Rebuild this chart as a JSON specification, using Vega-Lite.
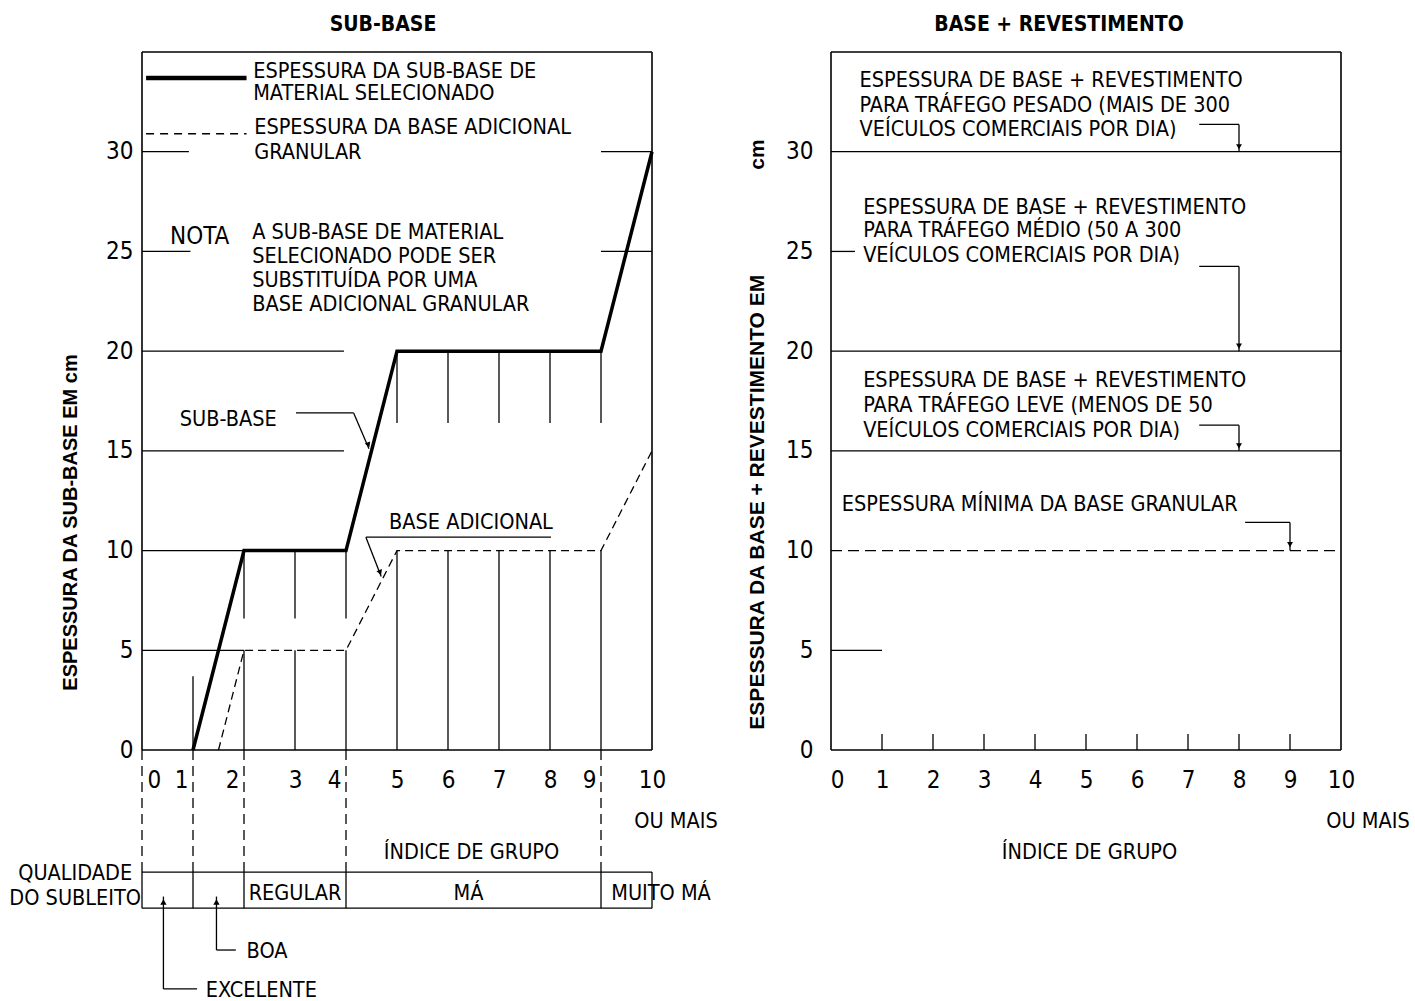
{
  "$schema": "https://vega.github.io/schema/vega-lite/v6.json",
  "background": "white",
  "padding": {"left": 9, "top": 14, "right": 2, "bottom": 2},
  "spacing": 179,
  "bounds": "flush",
  "config": {
    "view": {"stroke": null},
    "font": "Liberation Sans Narrow, DejaVu Sans Condensed, sans-serif",
    "axis": {
      "labelFont": "Liberation Sans Narrow, DejaVu Sans Condensed, sans-serif",
      "labelFontSize": 24,
      "labelColor": "black",
      "titleFont": "Liberation Sans Narrow, DejaVu Sans Condensed, sans-serif",
      "titleColor": "black",
      "titleFontWeight": "normal",
      "grid": false,
      "domain": false,
      "ticks": false,
      "tickSize": 0,
      "labelOverlap": false,
      "labelFlush": false
    },
    "text": {"font": "Liberation Sans Narrow, DejaVu Sans Condensed, sans-serif", "fontSize": 21.5, "color": "black", "baseline": "middle", "dy": 2},
    "title": {"font": "Liberation Sans Narrow, DejaVu Sans Condensed, sans-serif", "fontSize": 21, "fontWeight": "bold", "color": "black", "offset": 16, "baseline": "alphabetic", "anchor": "middle", "frame": "group"}
  },
  "datasets": {
    "frame": [
      {"x": 0, "y": 0, "x2": 0, "y2": 35},
      {"x": 0, "y": 35, "x2": 10, "y2": 35},
      {"x": 10, "y": 35, "x2": 10, "y2": 0},
      {"x": 0, "y": 0, "x2": 10, "y2": 0}
    ],
    "thinL": [
      {"x": 0, "y": 30, "x2": 0.92, "y2": 30},
      {"x": 9, "y": 30, "x2": 10, "y2": 30},
      {"x": 0, "y": 25, "x2": 0.95, "y2": 25},
      {"x": 9, "y": 25, "x2": 10, "y2": 25},
      {"x": 0, "y": 20, "x2": 3.96, "y2": 20},
      {"x": 0, "y": 15, "x2": 3.96, "y2": 15},
      {"x": 0, "y": 10, "x2": 2, "y2": 10},
      {"x": 0, "y": 5, "x2": 2, "y2": 5},
      {"x": 1, "y": 0, "x2": 1, "y2": 3.7},
      {"x": 2, "y": 0, "x2": 2, "y2": 5},
      {"x": 2, "y": 6.6, "x2": 2, "y2": 10},
      {"x": 3, "y": 0, "x2": 3, "y2": 5},
      {"x": 3, "y": 6.6, "x2": 3, "y2": 10},
      {"x": 4, "y": 0, "x2": 4, "y2": 5},
      {"x": 4, "y": 6.6, "x2": 4, "y2": 10},
      {"x": 5, "y": 0, "x2": 5, "y2": 10},
      {"x": 5, "y": 16.4, "x2": 5, "y2": 20},
      {"x": 6, "y": 0, "x2": 6, "y2": 10},
      {"x": 6, "y": 16.4, "x2": 6, "y2": 20},
      {"x": 7, "y": 0, "x2": 7, "y2": 10},
      {"x": 7, "y": 16.4, "x2": 7, "y2": 20},
      {"x": 8, "y": 0, "x2": 8, "y2": 10},
      {"x": 8, "y": 16.4, "x2": 8, "y2": 20},
      {"x": 9, "y": 0, "x2": 9, "y2": 10},
      {"x": 9, "y": 16.4, "x2": 9, "y2": 20},
      {"x": 3.02, "y": 16.9, "x2": 4.15, "y2": 16.9},
      {"x": 4.15, "y": 16.9, "x2": 4.45, "y2": 15.1},
      {"x": 4.39, "y": 10.67, "x2": 8.02, "y2": 10.67},
      {"x": 4.39, "y": 10.67, "x2": 4.69, "y2": 8.7},
      {"x": 0, "y": -6.12, "x2": 10, "y2": -6.12},
      {"x": 0, "y": -7.93, "x2": 10, "y2": -7.93},
      {"x": 0, "y": -6.12, "x2": 0, "y2": -7.93},
      {"x": 1, "y": -6.12, "x2": 1, "y2": -7.93},
      {"x": 2, "y": -6.12, "x2": 2, "y2": -7.93},
      {"x": 4, "y": -6.12, "x2": 4, "y2": -7.93},
      {"x": 9, "y": -6.12, "x2": 9, "y2": -7.93},
      {"x": 10, "y": -6.12, "x2": 10, "y2": -7.93},
      {"x": 0.42, "y": -7.35, "x2": 0.42, "y2": -11.98},
      {"x": 0.42, "y": -11.98, "x2": 1.08, "y2": -11.98},
      {"x": 1.46, "y": -7.35, "x2": 1.46, "y2": -10.03},
      {"x": 1.46, "y": -10.03, "x2": 1.84, "y2": -10.03}
    ],
    "dashL": [
      {"x": 0, "y": 0, "x2": 0, "y2": -6.12},
      {"x": 1, "y": 0, "x2": 1, "y2": -6.12},
      {"x": 2, "y": 0, "x2": 2, "y2": -6.12},
      {"x": 4, "y": 0, "x2": 4, "y2": -6.12},
      {"x": 9, "y": 0, "x2": 9, "y2": -6.12}
    ],
    "subbase": [
      {"x": 1, "y": 0}, {"x": 2, "y": 10}, {"x": 4, "y": 10},
      {"x": 5, "y": 20}, {"x": 9, "y": 20}, {"x": 10, "y": 30}
    ],
    "baseadic": [
      {"x": 1.5, "y": 0}, {"x": 2, "y": 5}, {"x": 4, "y": 5},
      {"x": 5, "y": 10}, {"x": 9, "y": 10}, {"x": 10, "y": 15}
    ],
    "legThick": [{"x": 0.08, "y": 33.7, "x2": 2.05, "y2": 33.7}],
    "legDash": [{"x": 0.08, "y": 30.9, "x2": 2.05, "y2": 30.9}],
    "arrowDiagL": [{"x": 4.44, "y": 15.3}, {"x": 4.67, "y": 8.9}],
    "arrowUpL": [{"x": 0.42, "y": -7.62}, {"x": 1.46, "y": -7.62}],
    "textLeftL": [
      {"x": 2.18, "y": 34.12, "label": "ESPESSURA DA SUB-BASE DE"},
      {"x": 2.18, "y": 33.0, "label": "MATERIAL SELECIONADO"},
      {"x": 2.2, "y": 31.3, "label": "ESPESSURA DA BASE ADICIONAL"},
      {"x": 2.2, "y": 30.05, "label": "GRANULAR"},
      {"x": 2.16, "y": 26.0, "label": "A SUB-BASE DE MATERIAL"},
      {"x": 2.16, "y": 24.8, "label": "SELECIONADO PODE SER"},
      {"x": 2.16, "y": 23.6, "label": "SUBSTITUÍDA POR UMA"},
      {"x": 2.16, "y": 22.4, "label": "BASE ADICIONAL GRANULAR"},
      {"x": 9.2, "y": -7.1, "label": "MUITO MÁ"},
      {"x": 2.05, "y": -10.03, "label": "BOA"},
      {"x": 1.25, "y": -11.98, "label": "EXCELENTE"}
    ],
    "textCenterL": [
      {"x": 1.69, "y": 16.66, "label": "SUB-BASE"},
      {"x": 6.45, "y": 11.49, "label": "BASE ADICIONAL"},
      {"x": 3.0, "y": -7.1, "label": "REGULAR"},
      {"x": 6.4, "y": -7.1, "label": "MÁ"},
      {"x": -1.31, "y": -6.12, "label": "QUALIDADE"},
      {"x": -1.31, "y": -7.38, "label": "DO SUBLEITO"},
      {"x": 10.47, "y": -3.51, "label": "OU MAIS"}
    ],
    "textNota": [{"x": 1.13, "y": 25.84, "label": "NOTA"}],
    "thinR": [
      {"x": 0, "y": 30, "x2": 10, "y2": 30},
      {"x": 0, "y": 20, "x2": 10, "y2": 20},
      {"x": 0, "y": 15, "x2": 10, "y2": 15},
      {"x": 0, "y": 25, "x2": 0.47, "y2": 25},
      {"x": 0, "y": 5, "x2": 1, "y2": 5},
      {"x": 1, "y": 0, "x2": 1, "y2": 0.8},
      {"x": 2, "y": 0, "x2": 2, "y2": 0.8},
      {"x": 3, "y": 0, "x2": 3, "y2": 0.8},
      {"x": 4, "y": 0, "x2": 4, "y2": 0.8},
      {"x": 5, "y": 0, "x2": 5, "y2": 0.8},
      {"x": 6, "y": 0, "x2": 6, "y2": 0.8},
      {"x": 7, "y": 0, "x2": 7, "y2": 0.8},
      {"x": 8, "y": 0, "x2": 8, "y2": 0.8},
      {"x": 9, "y": 0, "x2": 9, "y2": 0.8},
      {"x": 7.22, "y": 31.37, "x2": 8, "y2": 31.37},
      {"x": 8, "y": 31.37, "x2": 8, "y2": 30},
      {"x": 7.22, "y": 24.25, "x2": 8, "y2": 24.25},
      {"x": 8, "y": 24.25, "x2": 8, "y2": 20},
      {"x": 7.22, "y": 16.29, "x2": 8, "y2": 16.29},
      {"x": 8, "y": 16.29, "x2": 8, "y2": 15},
      {"x": 8.12, "y": 11.41, "x2": 9, "y2": 11.41},
      {"x": 9, "y": 11.41, "x2": 9, "y2": 10}
    ],
    "dashR": [{"x": 0, "y": 10, "x2": 10, "y2": 10}],
    "arrowDownR": [{"x": 8, "y": 30.25}, {"x": 8, "y": 20.25}, {"x": 8, "y": 15.25}, {"x": 9, "y": 10.3}],
    "textLeftR": [
      {"x": 0.56, "y": 33.65, "label": "ESPESSURA DE BASE + REVESTIMENTO"},
      {"x": 0.56, "y": 32.4, "label": "PARA TRÁFEGO PESADO (MAIS DE 300"},
      {"x": 0.56, "y": 31.19, "label": "VEÍCULOS COMERCIAIS POR DIA)"},
      {"x": 0.63, "y": 27.3, "label": "ESPESSURA DE BASE + REVESTIMENTO"},
      {"x": 0.63, "y": 26.1, "label": "PARA TRÁFEGO MÉDIO (50 A 300"},
      {"x": 0.63, "y": 24.85, "label": "VEÍCULOS COMERCIAIS POR DIA)"},
      {"x": 0.63, "y": 18.58, "label": "ESPESSURA DE BASE + REVESTIMENTO"},
      {"x": 0.63, "y": 17.36, "label": "PARA TRÁFEGO LEVE (MENOS DE 50"},
      {"x": 0.63, "y": 16.1, "label": "VEÍCULOS COMERCIAIS POR DIA)"},
      {"x": 0.21, "y": 12.38, "label": "ESPESSURA MÍNIMA DA BASE GRANULAR"}
    ],
    "textCenterR": [{"x": 10.53, "y": -3.51, "label": "OU MAIS"}]
  },
  "hconcat": [
    {
      "width": 510,
      "height": 698,
      "title": {"text": "SUB-BASE", "dx": -14},
      "layer": [
        {
          "data": {"name": "frame"},
          "mark": {"type": "rule", "strokeWidth": 1.6, "color": "black"},
          "encoding": {
            "x": {"field": "x", "type": "quantitative",
              "scale": {"domain": [0, 10], "nice": false, "zero": false},
              "axis": {"title": "ÍNDICE DE GRUPO", "values": [0,1,2,3,4,5,6,7,8,9,10], "labelPadding": 30, "labelBaseline": "middle",
                "labelAlign": {"condition": [{"test": "datum.value == 0", "value": "left"}, {"test": "indexof([1,2,4,9], datum.value) >= 0", "value": "right"}], "value": "center"},
                "labelOffset": {"condition": [{"test": "datum.value == 0", "value": 5}, {"test": "indexof([1,2,4,9], datum.value) >= 0", "value": -5}], "value": 0},
                "titleFontSize": 21.5, "titleX": 329, "titleY": 102, "titleBaseline": "middle", "titleAlign": "center"}},
            "x2": {"field": "x2"},
            "y": {"field": "y", "type": "quantitative",
              "scale": {"domain": [0, 35], "nice": false, "zero": false},
              "axis": {"title": "ESPESSURA DA SUB-BASE EM cm", "values": [0,5,10,15,20,25,30], "labelPadding": 9,
                "titleFont": "Liberation Sans, DejaVu Sans, sans-serif", "titleFontWeight": "bold", "titleFontSize": 20,
                "titleX": -72, "titleY": 470, "titleAngle": 270, "titleAlign": "center", "titleBaseline": "middle"}},
            "y2": {"field": "y2"}
          }
        },
        {
          "data": {"name": "thinL"},
          "mark": {"type": "rule", "strokeWidth": 1.3, "color": "black"},
          "encoding": {"x": {"field": "x", "type": "quantitative"}, "x2": {"field": "x2"}, "y": {"field": "y", "type": "quantitative"}, "y2": {"field": "y2"}}
        },
        {
          "data": {"name": "dashL"},
          "mark": {"type": "rule", "strokeWidth": 1.3, "color": "black", "strokeDash": [10, 6]},
          "encoding": {"x": {"field": "x", "type": "quantitative"}, "x2": {"field": "x2"}, "y": {"field": "y", "type": "quantitative"}, "y2": {"field": "y2"}}
        },
        {
          "data": {"name": "subbase"},
          "mark": {"type": "line", "strokeWidth": 3.5, "color": "black"},
          "encoding": {"x": {"field": "x", "type": "quantitative"}, "y": {"field": "y", "type": "quantitative"}}
        },
        {
          "data": {"name": "baseadic"},
          "mark": {"type": "line", "strokeWidth": 1.3, "color": "black", "strokeDash": [8, 5]},
          "encoding": {"x": {"field": "x", "type": "quantitative"}, "y": {"field": "y", "type": "quantitative"}}
        },
        {
          "data": {"name": "legThick"},
          "mark": {"type": "rule", "strokeWidth": 4.5, "color": "black"},
          "encoding": {"x": {"field": "x", "type": "quantitative"}, "x2": {"field": "x2"}, "y": {"field": "y", "type": "quantitative"}, "y2": {"field": "y2"}}
        },
        {
          "data": {"name": "legDash"},
          "mark": {"type": "rule", "strokeWidth": 1.3, "color": "black", "strokeDash": [8, 6]},
          "encoding": {"x": {"field": "x", "type": "quantitative"}, "x2": {"field": "x2"}, "y": {"field": "y", "type": "quantitative"}, "y2": {"field": "y2"}}
        },
        {
          "data": {"name": "arrowDiagL"},
          "mark": {"type": "point", "shape": "triangle-down", "filled": true, "size": 35, "color": "black", "opacity": 1, "angle": 338},
          "encoding": {"x": {"field": "x", "type": "quantitative"}, "y": {"field": "y", "type": "quantitative"}}
        },
        {
          "data": {"name": "arrowUpL"},
          "mark": {"type": "point", "shape": "triangle-up", "filled": true, "size": 40, "color": "black", "opacity": 1},
          "encoding": {"x": {"field": "x", "type": "quantitative"}, "y": {"field": "y", "type": "quantitative"}}
        },
        {
          "data": {"name": "textLeftL"},
          "mark": {"type": "text", "align": "left"},
          "encoding": {"x": {"field": "x", "type": "quantitative"}, "y": {"field": "y", "type": "quantitative"}, "text": {"field": "label"}}
        },
        {
          "data": {"name": "textCenterL"},
          "mark": {"type": "text", "align": "center"},
          "encoding": {"x": {"field": "x", "type": "quantitative"}, "y": {"field": "y", "type": "quantitative"}, "text": {"field": "label"}}
        },
        {
          "data": {"name": "textNota"},
          "mark": {"type": "text", "align": "center", "fontSize": 24},
          "encoding": {"x": {"field": "x", "type": "quantitative"}, "y": {"field": "y", "type": "quantitative"}, "text": {"field": "label"}}
        }
      ]
    },
    {
      "width": 510,
      "height": 698,
      "title": {"text": "BASE + REVESTIMENTO", "dx": -27},
      "layer": [
        {
          "data": {"name": "frame"},
          "mark": {"type": "rule", "strokeWidth": 1.6, "color": "black"},
          "encoding": {
            "x": {"field": "x", "type": "quantitative",
              "scale": {"domain": [0, 10], "nice": false, "zero": false},
              "axis": {"title": "ÍNDICE DE GRUPO", "values": [0,1,2,3,4,5,6,7,8,9,10], "labelPadding": 30, "labelBaseline": "middle",
                "labelOffset": {"condition": {"test": "datum.value == 0", "value": 6}, "value": 0},
                "titleFontSize": 21.5, "titleX": 258, "titleY": 102, "titleBaseline": "middle", "titleAlign": "center"}},
            "x2": {"field": "x2"},
            "y": {"field": "y", "type": "quantitative",
              "scale": {"domain": [0, 35], "nice": false, "zero": false},
              "axis": {"title": "ESPESSURA DA BASE + REVESTIMENTO EM\u00a0\u00a0\u00a0\u00a0\u00a0\u00a0\u00a0\u00a0\u00a0\u00a0\u00a0\u00a0\u00a0\u00a0\u00a0\u00a0\u00a0\u00a0cm", "values": [0,5,10,15,20,25,30], "labelPadding": 18,
                "titleFont": "Liberation Sans, DejaVu Sans, sans-serif", "titleFontWeight": "bold", "titleFontSize": 21,
                "titleX": -74, "titleY": 382, "titleAngle": 270, "titleAlign": "center", "titleBaseline": "middle"}},
            "y2": {"field": "y2"}
          }
        },
        {
          "data": {"name": "thinR"},
          "mark": {"type": "rule", "strokeWidth": 1.3, "color": "black"},
          "encoding": {"x": {"field": "x", "type": "quantitative"}, "x2": {"field": "x2"}, "y": {"field": "y", "type": "quantitative"}, "y2": {"field": "y2"}}
        },
        {
          "data": {"name": "dashR"},
          "mark": {"type": "rule", "strokeWidth": 1.3, "color": "black", "strokeDash": [11, 6]},
          "encoding": {"x": {"field": "x", "type": "quantitative"}, "x2": {"field": "x2"}, "y": {"field": "y", "type": "quantitative"}, "y2": {"field": "y2"}}
        },
        {
          "data": {"name": "arrowDownR"},
          "mark": {"type": "point", "shape": "triangle-down", "filled": true, "size": 35, "color": "black", "opacity": 1},
          "encoding": {"x": {"field": "x", "type": "quantitative"}, "y": {"field": "y", "type": "quantitative"}}
        },
        {
          "data": {"name": "textLeftR"},
          "mark": {"type": "text", "align": "left"},
          "encoding": {"x": {"field": "x", "type": "quantitative"}, "y": {"field": "y", "type": "quantitative"}, "text": {"field": "label"}}
        },
        {
          "data": {"name": "textCenterR"},
          "mark": {"type": "text", "align": "center"},
          "encoding": {"x": {"field": "x", "type": "quantitative"}, "y": {"field": "y", "type": "quantitative"}, "text": {"field": "label"}}
        }
      ]
    }
  ]
}
